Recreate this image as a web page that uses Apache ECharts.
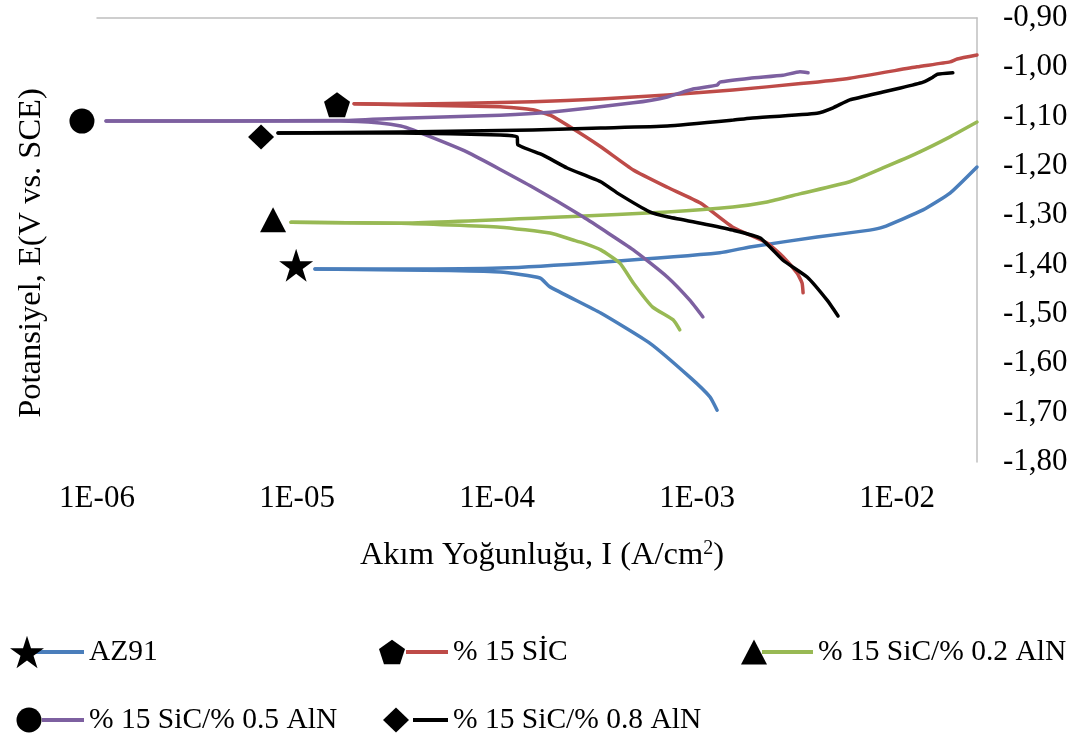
<!DOCTYPE html>
<html>
<head>
<meta charset="utf-8">
<script src="https://cdn.jsdelivr.net/npm/echarts@6/dist/echarts.min.js"></script>
<style>
  html, body { margin: 0; padding: 0; background: #ffffff; }
  #chart { width: 1084px; height: 738px; }
</style>
</head>
<body>
<div id="chart"></div>
<script>
// Tafel polarisation curves, each as two branches leaving the corrosion point:
// [current density (A/cm²), potential E (V vs. SCE)]
const seriesNames = ['AZ91', '% 15 SİC', '% 15 SiC/% 0.2 AlN', '% 15 SiC/% 0.5 AlN', '% 15 SiC/% 0.8 AlN'];

const az91Cathodic = [[1.23e-5, -1.409], [3.3e-5, -1.411], [5.8e-5, -1.412], [1.04e-4, -1.415], [1.64e-4, -1.427], [1.84e-4, -1.445], [3.3e-4, -1.498], [5.8e-4, -1.559], [9.2e-4, -1.628], [1.16e-3, -1.668], [1.26e-3, -1.695]];
const az91Anodic = [[1.23e-5, -1.409], [3.3e-5, -1.409], [1.04e-4, -1.407], [3.3e-4, -1.395], [1.3e-3, -1.376], [1.84e-3, -1.364], [3.98e-3, -1.344], [7.3e-3, -1.330], [8.5e-3, -1.324], [1.35e-2, -1.289], [1.84e-2, -1.255], [2.51e-2, -1.202]];

const sicCathodic = [[1.93e-5, -1.074], [3.3e-5, -1.076], [1.04e-4, -1.080], [1.51e-4, -1.086], [1.84e-4, -1.097], [2.24e-4, -1.117], [3.3e-4, -1.161], [4.8e-4, -1.208], [7.1e-4, -1.243], [1.04e-3, -1.275], [1.51e-3, -1.324], [2.24e-3, -1.356], [2.69e-3, -1.384], [3.16e-3, -1.417], [3.35e-3, -1.437], [3.39e-3, -1.457]];
const sicAnodic = [[1.93e-5, -1.074], [3.3e-5, -1.075], [1.51e-4, -1.070], [3.3e-4, -1.064], [7.1e-4, -1.056], [1.51e-3, -1.046], [3.3e-3, -1.033], [5.8e-3, -1.022], [1.26e-2, -0.999], [1.84e-2, -0.989], [2.0e-2, -0.983], [2.51e-2, -0.975]];

const aln02Cathodic = [[9.33e-6, -1.314], [3.3e-5, -1.316], [1.04e-4, -1.324], [1.84e-4, -1.336], [2.4e-4, -1.350], [2.69e-4, -1.356], [3.3e-4, -1.370], [4.12e-4, -1.397], [4.8e-4, -1.437], [6.0e-4, -1.486], [7.6e-4, -1.512], [8.2e-4, -1.532]];
const aln02Anodic = [[9.33e-6, -1.314], [3.3e-5, -1.316], [2.24e-4, -1.303], [7.1e-4, -1.293], [1.51e-3, -1.283], [2.24e-3, -1.273], [3.3e-3, -1.256], [5.8e-3, -1.232], [8.5e-3, -1.204], [1.26e-2, -1.174], [1.84e-2, -1.141], [2.51e-2, -1.111]];

const aln05Cathodic = [[1.11e-6, -1.109], [1.64e-5, -1.109], [2.6e-5, -1.113], [3.3e-5, -1.119], [3.8e-5, -1.127], [7.1e-5, -1.172], [1.51e-4, -1.243], [2.69e-4, -1.303], [4.8e-4, -1.370], [7.1e-4, -1.425], [9.2e-4, -1.472], [1.07e-3, -1.506]];
const aln05Anodic = [[1.11e-6, -1.109], [1.64e-5, -1.108], [3.3e-5, -1.103], [1.04e-4, -1.097], [1.84e-4, -1.091], [4.8e-4, -1.072], [7.1e-4, -1.060], [9.55e-4, -1.044], [1.26e-3, -1.036], [1.30e-3, -1.030], [1.84e-3, -1.022], [2.69e-3, -1.016], [3.27e-3, -1.009], [3.59e-3, -1.011]];

const aln08Cathodic = [[8.04e-6, -1.133], [3.3e-5, -1.133], [1.04e-4, -1.137], [1.26e-4, -1.141], [1.27e-4, -1.157], [1.70e-4, -1.178], [2.24e-4, -1.204], [3.3e-4, -1.232], [4.0e-4, -1.255], [5.8e-4, -1.293], [7.1e-4, -1.303], [1.04e-3, -1.316], [1.51e-3, -1.330], [2.07e-3, -1.346], [2.69e-3, -1.391], [3.55e-3, -1.425], [4.47e-3, -1.472], [5.07e-3, -1.504]];
const aln08Anodic = [[8.04e-6, -1.133], [3.3e-5, -1.131], [1.51e-4, -1.127], [3.3e-4, -1.123], [7.1e-4, -1.119], [1.51e-3, -1.107], [1.84e-3, -1.103], [3.98e-3, -1.093], [4.79e-3, -1.082], [5.8e-3, -1.066], [8.5e-3, -1.050], [1.04e-2, -1.042], [1.35e-2, -1.030], [1.51e-2, -1.020], [1.59e-2, -1.014], [1.9e-2, -1.011]];

// Corrosion-point markers beside each curve
const ecorrCurrent = [9.9e-6, 1.585e-5, 7.59e-6, 8.41e-7, 6.61e-6];
const ecorrPotential = [-1.401, -1.076, -1.309, -1.109, -1.141];

// Axis ranges
const xMin = 1e-6, xMax = 0.0251;
const yMin = -1.8, yMax = -0.9, yStep = 0.1;

const branches = [
  [az91Cathodic, az91Anodic],
  [sicCathodic, sicAnodic],
  [aln02Cathodic, aln02Anodic],
  [aln05Cathodic, aln05Anodic],
  [aln08Cathodic, aln08Anodic]
];
const lineColors = ['#4a7ebb', '#be4b48', '#98b954', '#7d60a0', '#000000'];

const STAR = 'path://M50 0 L61.2 34.5 L97.6 34.5 L68.2 55.9 L79.4 90.5 L50 69.1 L20.6 90.5 L31.8 55.9 L2.4 34.5 L38.8 34.5 Z';
const PENTAGON = 'path://M50 0 L97.6 34.5 L79.4 90.5 L20.6 90.5 L2.4 34.5 Z';
const markerSymbols = [STAR, PENTAGON, 'triangle', 'circle', 'diamond'];
const markerSizes = [[34, 33], [26, 25], [26, 25], [25, 25], [26, 25]];

const FONT = 'Liberation Serif';
const markerNames = seriesNames.map(n => n + ' Ecorr');

const series = [];
branches.forEach((pair, i) => {
  pair.forEach(branch => {
    series.push({
      name: seriesNames[i],
      type: 'line',
      data: branch,
      showSymbol: false,
      symbol: 'none',
      smooth: 0.15,
      color: lineColors[i],
      lineStyle: { width: 3.5, color: lineColors[i], cap: 'round', join: 'round' },
      z: 2 + i
    });
  });
});
ecorrCurrent.forEach((c, i) => {
  series.push({
    name: markerNames[i],
    type: 'scatter',
    data: [[c, ecorrPotential[i]]],
    symbol: markerSymbols[i],
    symbolSize: markerSizes[i],
    clip: false,
    color: '#000000',
    itemStyle: { color: '#000000', opacity: 1 },
    z: 10
  });
});

// Legend layout: each entry has a black marker, then its coloured line sample and name
const legendSlots = [
  { markerX: 27, lineX: 35, lineW: 49, cy: 652 },
  { markerX: 392, lineX: 406, lineW: 42, cy: 652 },
  { markerX: 754, lineX: 762, lineW: 51, cy: 652 },
  { markerX: 29, lineX: 42, lineW: 42, cy: 720 },
  { markerX: 396, lineX: 413, lineW: 35, cy: 720 }
];
const legends = [];
legendSlots.forEach((s, i) => {
  legends.push({
    data: [seriesNames[i]],
    left: s.lineX, top: s.cy - 17,
    padding: 0,
    icon: 'rect',
    itemWidth: s.lineW, itemHeight: 4,
    selectedMode: false,
    textStyle: { fontFamily: FONT, fontSize: 29.5, color: '#000', lineHeight: 34, padding: [0, 0, 0, 0] }
  });
  legends.push({
    data: [markerNames[i]],
    left: s.markerX - markerSizes[i][0] / 2, top: s.cy - markerSizes[i][1] / 2,
    padding: 0,
    icon: markerSymbols[i],
    itemWidth: markerSizes[i][0], itemHeight: markerSizes[i][1],
    itemStyle: { color: '#000000', opacity: 1 },
    selectedMode: false,
    formatter: () => '',
    z: 10
  });
});

const chart = echarts.init(document.getElementById('chart'), null, { renderer: 'canvas' });
chart.setOption({
  animation: false,
  backgroundColor: '#ffffff',
  grid: { left: 97, right: 107, top: 18, bottom: 276, containLabel: false, outerBoundsMode: 'none' },
  legend: legends,
  xAxis: [
    {
      type: 'log', logBase: 10, min: xMin, max: xMax,
      position: 'bottom',
      axisLine: { show: false },
      axisTick: { show: false },
      splitLine: { show: false },
      axisLabel: {
        fontFamily: FONT, fontSize: 31, color: '#000', margin: 21,
        showMaxLabel: false,
        formatter: v => {
          const p = Math.log10(v);
          if (Math.abs(p - Math.round(p)) > 1e-6) return '';
          return '1E-' + String(-Math.round(p)).padStart(2, '0');
        }
      },
      name: 'Akım Yoğunluğu, I (A/cm{sup|2})',
      nameLocation: 'middle',
      nameGap: 75,
      nameTextStyle: {
        fontFamily: FONT, fontSize: 32.5, color: '#000', lineHeight: 37, padding: [0, 0, 0, 10],
        rich: { sup: { fontFamily: FONT, fontSize: 20, color: '#000', lineHeight: 20, verticalAlign: 'top', padding: [2, 0, 0, 0] } }
      }
    },
    {
      type: 'log', logBase: 10, min: xMin, max: xMax,
      position: 'top',
      axisLine: { show: true, lineStyle: { color: '#bfbfbf', width: 1.5 } },
      axisTick: { show: false },
      axisLabel: { show: false },
      splitLine: { show: false }
    }
  ],
  yAxis: [
    {
      type: 'value', min: yMin, max: yMax, interval: yStep,
      position: 'right',
      axisLine: { show: true, onZero: false, lineStyle: { color: '#bfbfbf', width: 1.5 } },
      axisTick: { show: false },
      splitLine: { show: false },
      axisLabel: {
        fontFamily: FONT, fontSize: 31, color: '#000', margin: 26,
        formatter: v => v.toFixed(2).replace('.', ',')
      }
    },
    {
      type: 'value', min: yMin, max: yMax, interval: yStep,
      position: 'left',
      axisLine: { show: false },
      axisTick: { show: false },
      axisLabel: { show: false },
      splitLine: { show: false },
      name: 'Potansiyel, E(V vs. SCE)',
      nameLocation: 'middle',
      nameGap: 49,
      nameTextStyle: { fontFamily: FONT, fontSize: 32.5, color: '#000', padding: [0, 26, 0, 0] }
    }
  ],
  series: series
});
</script>
</body>
</html>
